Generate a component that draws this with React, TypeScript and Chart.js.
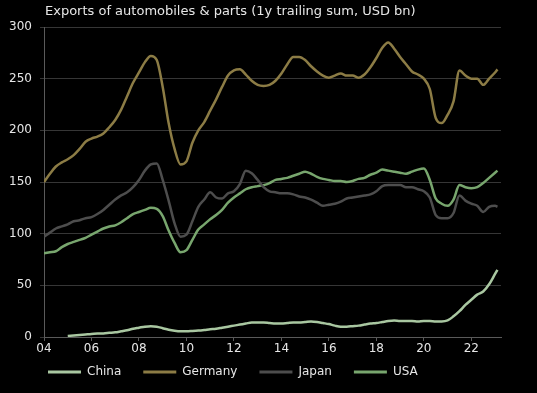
import { useEffect, useRef } from "react";
import { Chart, registerables } from "chart.js";
Chart.register(...registerables);

const TITLE = "Exports of automobiles & parts (1y trailing sum, USD bn)";
const SERIES_NAMES = ["China", "Germany", "Japan", "USA"];
const SERIES_COLORS = ["#a9c7a1", "#8c7c45", "#4d4d4d", "#78a66e"];

// quarterly observations, 2004 Q1 .. 2023 Q1, plus the last month shown
const QUARTERS: number[] = Array.from({ length: 77 }, (_, i) => 2004 + i * 0.25).concat([2023.1]);

const CHINA = [
  null, null, null, null,
  1, 1.5, 2, 2.5,
  3, 3.3, 3.5, 4,
  4.5, 5.5, 6.5, 8,
  9, 10, 10.5, 10,
  8.5, 7, 6, 5.5,
  5.5, 5.8, 6.2, 6.8,
  7.5, 8, 9, 10,
  11, 12, 13, 14,
  14, 14, 13.5, 13,
  13, 13.5, 14, 14,
  14.5, 15, 14.5, 13.5,
  12.5, 11, 10, 10,
  10.5, 11, 12, 13,
  13.5, 14.5, 15.5, 16,
  15.5, 15.5, 15.5, 15,
  15.5, 15.5, 15, 15,
  16, 20, 25, 31,
  36, 41, 44, 51,
  61, 65,
];
const GERMANY = [
  150, 158, 165, 169,
  172, 176, 182, 189,
  192, 194, 197, 203,
  210, 220, 233, 246,
  256, 266, 272, 268,
  242, 207, 182, 167,
  170, 188, 200, 208,
  219, 230, 242, 253,
  258, 259, 254, 248,
  244, 243, 244, 248,
  255, 264, 271, 271,
  268, 262, 257, 253,
  251, 253, 255, 253,
  253, 251, 254, 261,
  270, 280, 285, 279,
  271, 264, 257, 254,
  250, 240, 212, 207,
  215, 228, 258, 253,
  250, 250, 244, 250,
  256, 259,
];
const JAPAN = [
  97, 101, 105, 107,
  109, 112, 113, 115,
  116, 119, 123, 128,
  133, 137, 140, 145,
  152, 161, 167, 168,
  152, 132, 110, 97,
  99, 112, 126, 133,
  140, 135, 134, 139,
  141, 148, 161, 158.5,
  152, 145, 141, 140,
  139, 139, 138, 136,
  135, 133, 130, 127,
  128, 129, 131, 134,
  135, 136, 137, 138,
  141, 146, 147, 147,
  147, 145, 145, 143,
  141, 135, 118, 115,
  115, 120, 137, 132,
  129, 127, 121, 126,
  127, 126,
];
const USA = [
  81, 82, 83, 87,
  90, 92, 94, 96,
  99, 102, 105, 107,
  108, 111, 115, 119,
  121, 123, 125, 124,
  117, 103, 91, 82,
  84, 94, 104, 109,
  114, 118, 123, 130,
  135, 139, 143, 145,
  146, 147, 149, 152,
  153, 154, 156, 158,
  160, 158, 155, 153,
  152, 151, 151, 150,
  151, 153, 154, 157,
  159, 162, 161, 160,
  159, 158, 160, 162,
  163, 152, 134, 129,
  127, 133, 147, 145,
  144, 145, 149, 154,
  159, 161,
];
const SERIES_VALUES = [CHINA, GERMANY, JAPAN, USA];

const X_TICKS = [2004, 2006, 2008, 2010, 2012, 2014, 2016, 2018, 2020, 2022];
const Y_TICKS = [0, 50, 100, 150, 200, 250, 300];

const FONT = "DejaVu Sans";
const TEXT_COLOR = "#e6e6e6";

const overlayPlugin = {
  id: "overlay",
  afterDraw(chart: any) {
    const ctx = chart.ctx as CanvasRenderingContext2D;
    ctx.save();
    ctx.textBaseline = "middle";
    ctx.textAlign = "left";
    ctx.fillStyle = TEXT_COLOR;
    ctx.font = `13px "${FONT}"`;
    ctx.fillText(TITLE, 45, 12);
    // legend
    ctx.font = `12px "${FONT}"`;
    let x = 48;
    const y = 372;
    chart.data.datasets.forEach((ds: any) => {
      ctx.fillStyle = ds.borderColor;
      ctx.fillRect(x, y - 1.5, 33, 3);
      x += 33 + 6;
      ctx.fillStyle = TEXT_COLOR;
      ctx.fillText(ds.label, x, y);
      x += ctx.measureText(ds.label).width + 22;
    });
    ctx.restore();
  },
};

export default function App() {
  const ref = useRef<HTMLCanvasElement | null>(null);
  useEffect(() => {
    document.body.style.margin = "0";
    document.body.style.background = "#000";
    if (!ref.current) return;
    const datasets = SERIES_NAMES.map((name, si) => ({
      label: name,
      data: QUARTERS.map((q, i) => ({ x: q, y: SERIES_VALUES[si][i] })).filter((p) => p.y !== null),
      borderColor: SERIES_COLORS[si],
      backgroundColor: SERIES_COLORS[si],
      borderWidth: 2.5,
      pointRadius: 0,
      tension: 0.4,
      cubicInterpolationMode: "monotone" as const,
      fill: false,
    }));
    const chart = new Chart(ref.current, {
      type: "line",
      data: { datasets },
      plugins: [overlayPlugin],
      options: {
        animation: false,
        responsive: true,
        maintainAspectRatio: false,
        layout: { padding: { top: 27, right: 36, left: 0, bottom: 0 } },
        font: { family: FONT, size: 12 },
        plugins: {
          legend: { display: false },
          title: { display: false },
          tooltip: { enabled: false },
        },
        scales: {
          x: {
            type: "linear",
            min: 2004,
            max: 2023.25,
            afterBuildTicks: (axis: any) => {
              axis.ticks = X_TICKS.map((v) => ({ value: v }));
            },
            afterFit: (axis: any) => {
              axis.height = 56;
            },
            ticks: {
              color: TEXT_COLOR,
              font: { family: FONT, size: 12 },
              padding: 1,
              maxRotation: 0,
              autoSkip: false,
              callback: (v: any) => String(Number(v) % 100).padStart(2, "0"),
            },
            grid: { drawOnChartArea: false, drawTicks: true, tickLength: 4, color: "#5a5a5a" },
            border: { color: "#5a5a5a" },
          },
          y: {
            min: 0,
            max: 300,
            afterBuildTicks: (axis: any) => {
              axis.ticks = Y_TICKS.map((v) => ({ value: v }));
            },
            afterFit: (axis: any) => {
              axis.width = 44;
            },
            ticks: {
              color: TEXT_COLOR,
              font: { family: FONT, size: 12 },
              padding: 8,
            },
            grid: { color: "#363636", tickLength: 4 },
            border: { color: "#5a5a5a" },
          },
        },
      },
    });
    return () => chart.destroy();
  }, []);
  return (
    <div style={{ width: 537, height: 393, background: "#000", position: "relative" }}>
      <canvas ref={ref} />
    </div>
  );
}
